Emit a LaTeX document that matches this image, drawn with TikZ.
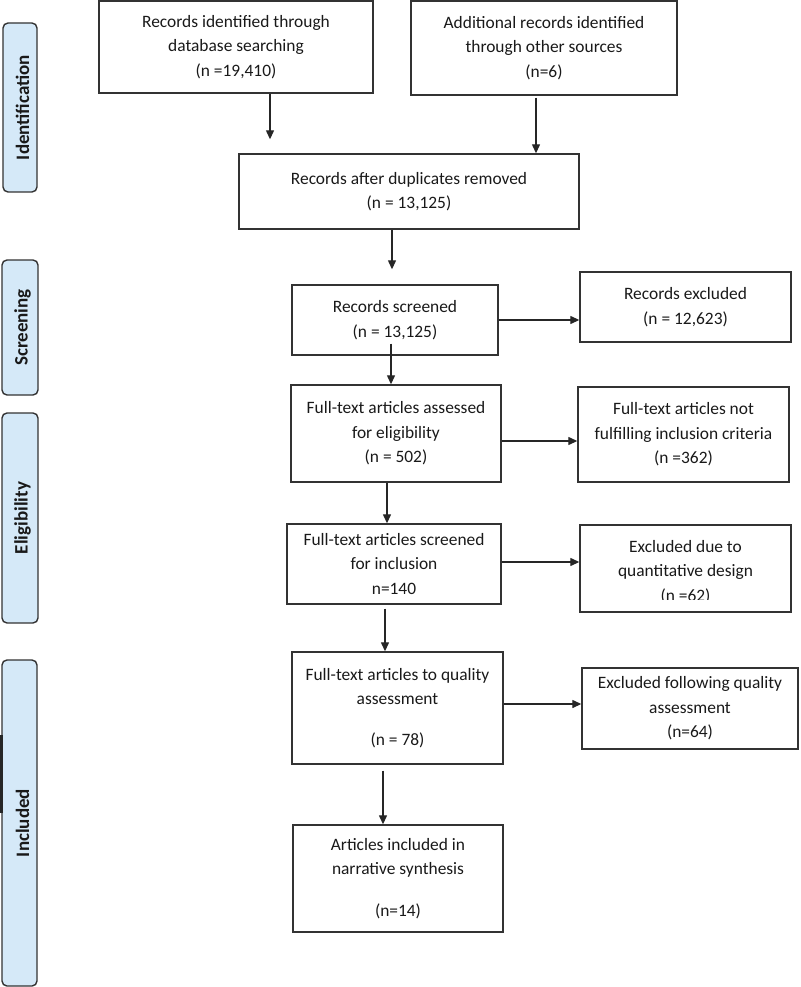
\documentclass[tikz,border=0pt]{standalone}
\usepackage{fontspec}
\setmainfont{Carlito}
\usetikzlibrary{arrows.meta}
\definecolor{edge}{HTML}{333333}
\definecolor{lab}{HTML}{D5E9F8}
\begin{document}
\begin{tikzpicture}[x=1pt,y=-1pt,
  box/.style={draw=edge,line width=1.4pt,rectangle,align=center,inner sep=2pt,
    font=\fontsize{17.4}{24.5}\selectfont,text=black!90},
  side/.style={draw=edge,fill=lab,line width=1.4pt,rounded corners=5pt,inner sep=0pt},
  sidetext/.style={rotate=90,font=\fontsize{19}{22}\selectfont\bfseries,text=black!90},
  arr/.style={draw=black!85,line width=1.3pt,-{Triangle[length=9pt,width=8pt]}}]
\useasboundingbox (0,0) rectangle (800,987);
% phase labels
\node[side,minimum width=34pt,minimum height=169pt] (s1) at (20,107.5) {};
\node[sidetext] (t1) at (22.5,107.5) {Identification};
\node[side,minimum width=36pt,minimum height=135pt] (s2) at (20,327.5) {};
\node[sidetext] (t2) at (22.5,327.5) {Screening};
\node[side,minimum width=36pt,minimum height=210pt] (s3) at (20,518) {};
\node[sidetext] (t3) at (22.5,518) {Eligibility};
\node[side,minimum width=35pt,minimum height=326pt] (s4) at (19.5,823) {};
\node[sidetext] (t4) at (22.5,823) {Included};
\coordinate (bar1) at (1.5,735);
\coordinate (bar2) at (1.5,813);
\draw[line width=3pt,draw=black!85] (bar1) -- (bar2);
% boxes
\node[box,minimum width=274pt,minimum height=92pt] (A) at (236,47) {Records identified through\\database searching\\(n =19,410)};
\node[box,minimum width=266pt,minimum height=94pt] (B) at (544,48) {Additional records identified\\through other sources\\(n=6)};
\node[box,minimum width=340pt,minimum height=75pt] (C) at (409,191.5) {Records after duplicates removed\\(n = 13,125)};
\node[box,minimum width=206pt,minimum height=70pt] (D) at (395,320) {Records screened\\(n = 13,125)};
\node[box,minimum width=211pt,minimum height=70pt] (E) at (685.5,307) {Records excluded\\(n = 12,623)};
\node[box,minimum width=210pt,minimum height=97pt] (F) at (396,433.5) {Full-text articles assessed\\for eligibility\\(n = 502)};
\node[box,minimum width=211pt,minimum height=95pt] (G) at (683.5,434.5) {Full-text articles not\\fulfilling inclusion criteria\\(n =362)};
\node[box,minimum width=214pt,minimum height=80pt] (H) at (394,564) {Full-text articles screened\\for inclusion\\n=140};
\node[box,minimum width=211pt,minimum height=87pt] (I) at (685.5,568.5) {};
\begin{scope}
\clip (560,520) rectangle (800,599);
\node[box,draw=none] (It) at (685.5,572) {Excluded due to\\quantitative design\\(n =62)};
\end{scope}
\node[box,minimum width=211pt,minimum height=112pt] (J) at (397.5,708) {Full-text articles to quality\\assessment\\[16pt](n = 78)};
\node[box,minimum width=216pt,minimum height=81pt] (K) at (690,708.5) {Excluded following quality\\assessment\\(n=64)};
\node[box,minimum width=210pt,minimum height=107pt] (L) at (398,878.5) {Articles included in\\narrative synthesis\\[17pt](n=14)};
% connectors
\draw[arr,shorten >=14pt] ([xshift=34pt]A.south) -- ([xshift=34pt]A.south |- C.north);
\draw[arr] ([xshift=-8pt,yshift=-2pt]B.south) -- ([xshift=-8pt]B.south |- C.north);
\draw[arr,shorten >=15pt] ([xshift=-17pt]C.south) -- ([xshift=-17pt]C.south |- D.north);
\draw[arr] (D.east) -- (D.east -| E.west);
\draw[arr] ([xshift=-4pt,yshift=12pt]D.south) -- ([xshift=-4pt]D.south |- F.north);
\draw[arr] ([yshift=-7.5pt]F.east) -- ([yshift=-7.5pt]F.east -| G.west);
\draw[arr] ([xshift=-9pt]F.south) -- ([xshift=-9pt]F.south |- H.north);
\draw[arr] ([yshift=2pt]H.east) -- ([yshift=2pt]H.east -| I.west);
\draw[arr] ([xshift=-9pt,yshift=-4pt]H.south) -- ([xshift=-9pt]H.south |- J.north);
\draw[arr] ([yshift=4pt]J.east) -- ([yshift=4pt]J.east -| K.west);
\draw[arr] ([xshift=-14.5pt,yshift=-6pt]J.south) -- ([xshift=-14.5pt]J.south |- L.north);
\end{tikzpicture}
\end{document}
